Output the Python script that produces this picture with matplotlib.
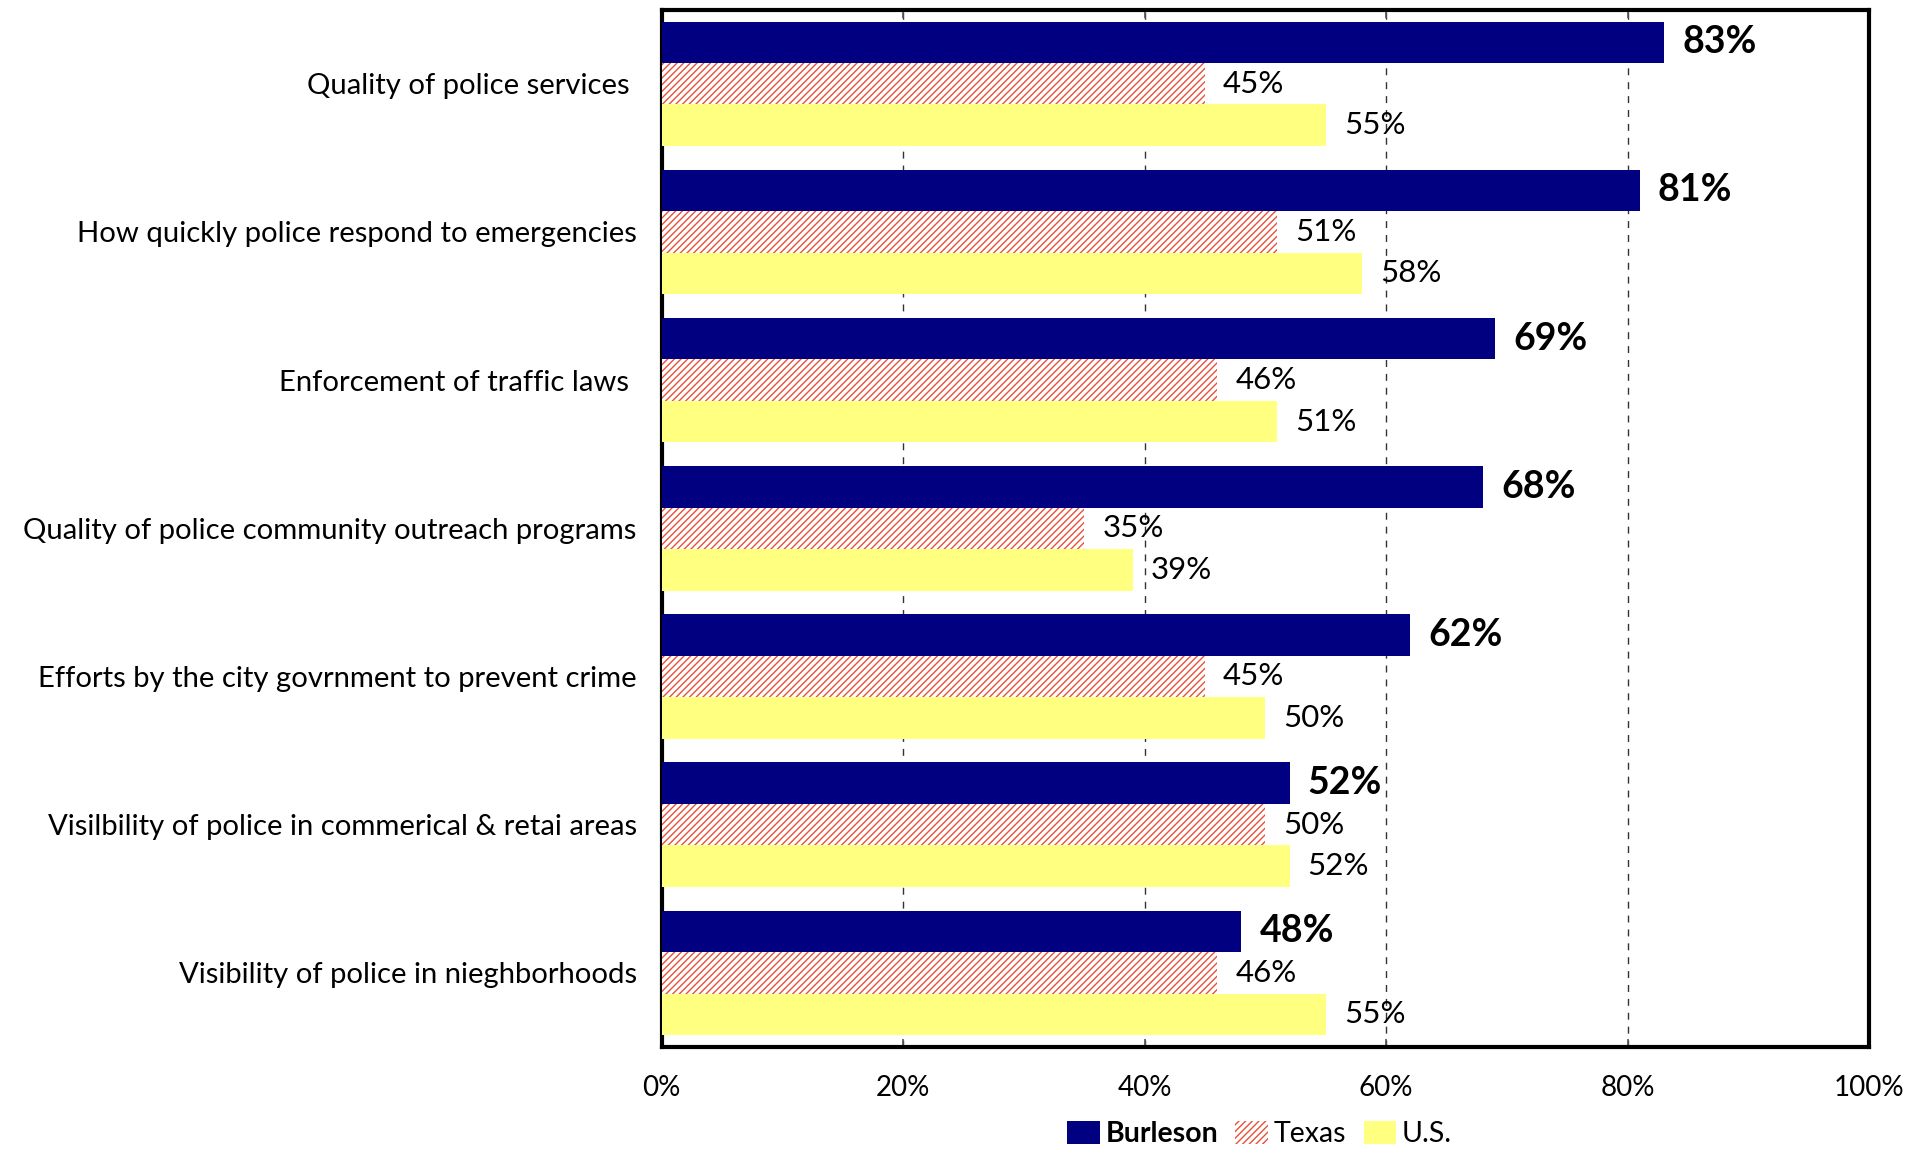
import numpy as np
import matplotlib
matplotlib.use("Agg")
import matplotlib.pyplot as plt

plt.rcParams["font.family"] = ["Lato", "DejaVu Sans"]
plt.rcParams["hatch.linewidth"] = 1.0

categories = [
    "Quality of police services ",
    "How quickly police respond to emergencies",
    "Enforcement of traffic laws ",
    "Quality of police community outreach programs",
    "Efforts by the city govrnment to prevent crime",
    "Visilbility of police in commerical & retai areas",
    "Visibility of police in nieghborhoods",
]
burleson = [83, 81, 69, 68, 62, 52, 48]
texas = [45, 51, 46, 35, 45, 50, 46]
us = [55, 58, 51, 39, 50, 52, 55]

NAVY = "#000080"
RED = "#E8503A"
YELLOW = "#FFFF80"

fig = plt.figure(figsize=(19.29, 11.5), dpi=100)
ax = fig.add_axes([0.343, 0.0896, 0.626, 0.902])

y = np.arange(len(categories))
h = 0.28

ax.barh(y - h, burleson, height=h, color=NAVY, label="Burleson", zorder=3)
ax.barh(y, texas, height=h, color="white", edgecolor=RED, hatch="/////",
        linewidth=0, label="Texas", zorder=3)
ax.barh(y + h, us, height=h, color=YELLOW, label="U.S.", zorder=3)

for i in range(len(categories)):
    ax.text(burleson[i] + 1.5, y[i] - h, f"{burleson[i]}%", va="center", ha="left",
            fontsize=27, fontweight="bold", zorder=4)
    ax.text(texas[i] + 1.5, y[i], f"{texas[i]}%", va="center", ha="left",
            fontsize=22.5, zorder=4)
    ax.text(us[i] + 1.5, y[i] + h, f"{us[i]}%", va="center", ha="left",
            fontsize=22.5, zorder=4)

ax.set_xlim(0, 100)
ax.set_ylim(len(categories) - 0.5, -0.5)
ax.set_xticks([0, 20, 40, 60, 80, 100])
ax.set_xticklabels(["0%", "20%", "40%", "60%", "80%", "100%"], fontsize=20)
ax.set_yticks(y)
ax.set_yticklabels(categories, fontsize=21.1)
ax.tick_params(axis="y", length=0, pad=18)
ax.tick_params(axis="x", direction="in", top=True, length=6, width=1.2, color="#555555", pad=20)
ax.xaxis.grid(True, linestyle=(0, (5, 5)), color="#333333", linewidth=1.0, zorder=0)
ax.set_axisbelow(True)
for s in ax.spines.values():
    s.set_linewidth(3)

leg = fig.legend(loc="center", bbox_to_anchor=(0.653, 0.014), ncol=3, frameon=False,
                 fontsize=20.5, handlelength=1.15, handleheight=0.85, columnspacing=0.6,
                 handletextpad=0.2)
leg.get_texts()[0].set_fontweight("bold")

fig.savefig("out.png", dpi=100)
